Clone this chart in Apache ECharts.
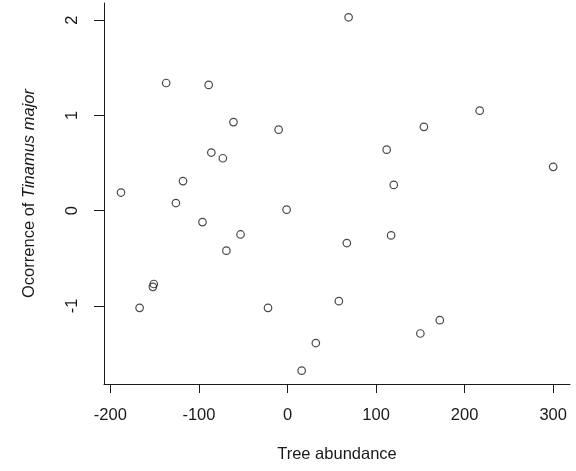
<!DOCTYPE html>
<html>
<head>
<meta charset="utf-8">
<title>Tinamus major vs tree abundance</title>
<script src="https://cdn.jsdelivr.net/npm/echarts@6/dist/echarts.min.js"></script>
<style>
  html, body { margin: 0; padding: 0; background: #fff; }
  #main { width: 576px; height: 471px; }
</style>
</head>
<body>
<div id="main"></div>
<script>
// tree abundance (x) and occurrence of Tinamus major (y)
const treeAbundance = [
  69, -137, -89, 217, -61, -10, 154, 112, -86, -73,
  300, 120, -118, -188, -126, -1, -96, -53, -69, 67,
  117, -151, -152, -167, -22, 58, 32, 16, 150, 172
];
const occurrence = [
  2.03, 1.34, 1.32, 1.05, 0.93, 0.85, 0.88, 0.64, 0.61, 0.55,
  0.46, 0.27, 0.31, 0.19, 0.08, 0.01, -0.12, -0.25, -0.42, -0.34,
  -0.26, -0.77, -0.80, -1.02, -1.02, -0.95, -1.39, -1.68, -1.29, -1.15
];
const xTicks = [-200, -100, 0, 100, 200, 300];
const yTicks = [-1, 0, 1, 2];

const points = treeAbundance.map((x, i) => [x, occurrence[i]]);

const ink = "#1a1a1a";
const font = "'Liberation Sans', Arial, sans-serif";

const chart = echarts.init(document.getElementById("main"));
chart.setOption({
  backgroundColor: "#fff",
  animation: false,
  textStyle: { fontFamily: font },
  grid: { left: 104, right: 6, top: 3, bottom: 87, containLabel: false },
  xAxis: {
    type: "value",
    min: -207.2,
    max: 319,
    name: "Tree abundance",
    nameLocation: "middle",
    nameGap: 62,
    nameTextStyle: { color: ink, fontSize: 16.5, fontFamily: font },
    splitLine: { show: false },
    axisLine: { show: true, onZero: false, lineStyle: { color: ink, width: 1 } },
    axisTick: { show: true, length: 9, lineStyle: { color: ink }, customValues: xTicks },
    axisLabel: { color: ink, fontSize: 16.5, fontFamily: font, margin: 23, customValues: xTicks }
  },
  yAxis: {
    type: "value",
    min: -1.82,
    max: 2.18,
    name: "{n|Ocorrence of }{i|Tinamus major}",
    nameLocation: "middle",
    nameRotate: 90,
    nameGap: 66,
    nameTextStyle: {
      color: ink,
      fontSize: 16.5,
      fontFamily: font,
      rich: {
        n: { color: ink, fontSize: 16.5, fontFamily: font },
        i: { color: ink, fontSize: 16.5, fontFamily: font, fontStyle: "italic" }
      }
    },
    splitLine: { show: false },
    axisLine: { show: true, onZero: false, lineStyle: { color: ink, width: 1 } },
    axisTick: { show: true, length: 10, lineStyle: { color: ink }, customValues: yTicks },
    axisLabel: { color: ink, fontSize: 16.5, fontFamily: font, rotate: 90, margin: 23, customValues: yTicks }
  },
  series: [
    {
      type: "scatter",
      data: points,
      symbol: "circle",
      symbolSize: 7.5,
      itemStyle: { color: "rgba(0,0,0,0)", borderColor: "#1a1a1a", borderWidth: 1.2 }
    }
  ]
});
</script>
</body>
</html>
